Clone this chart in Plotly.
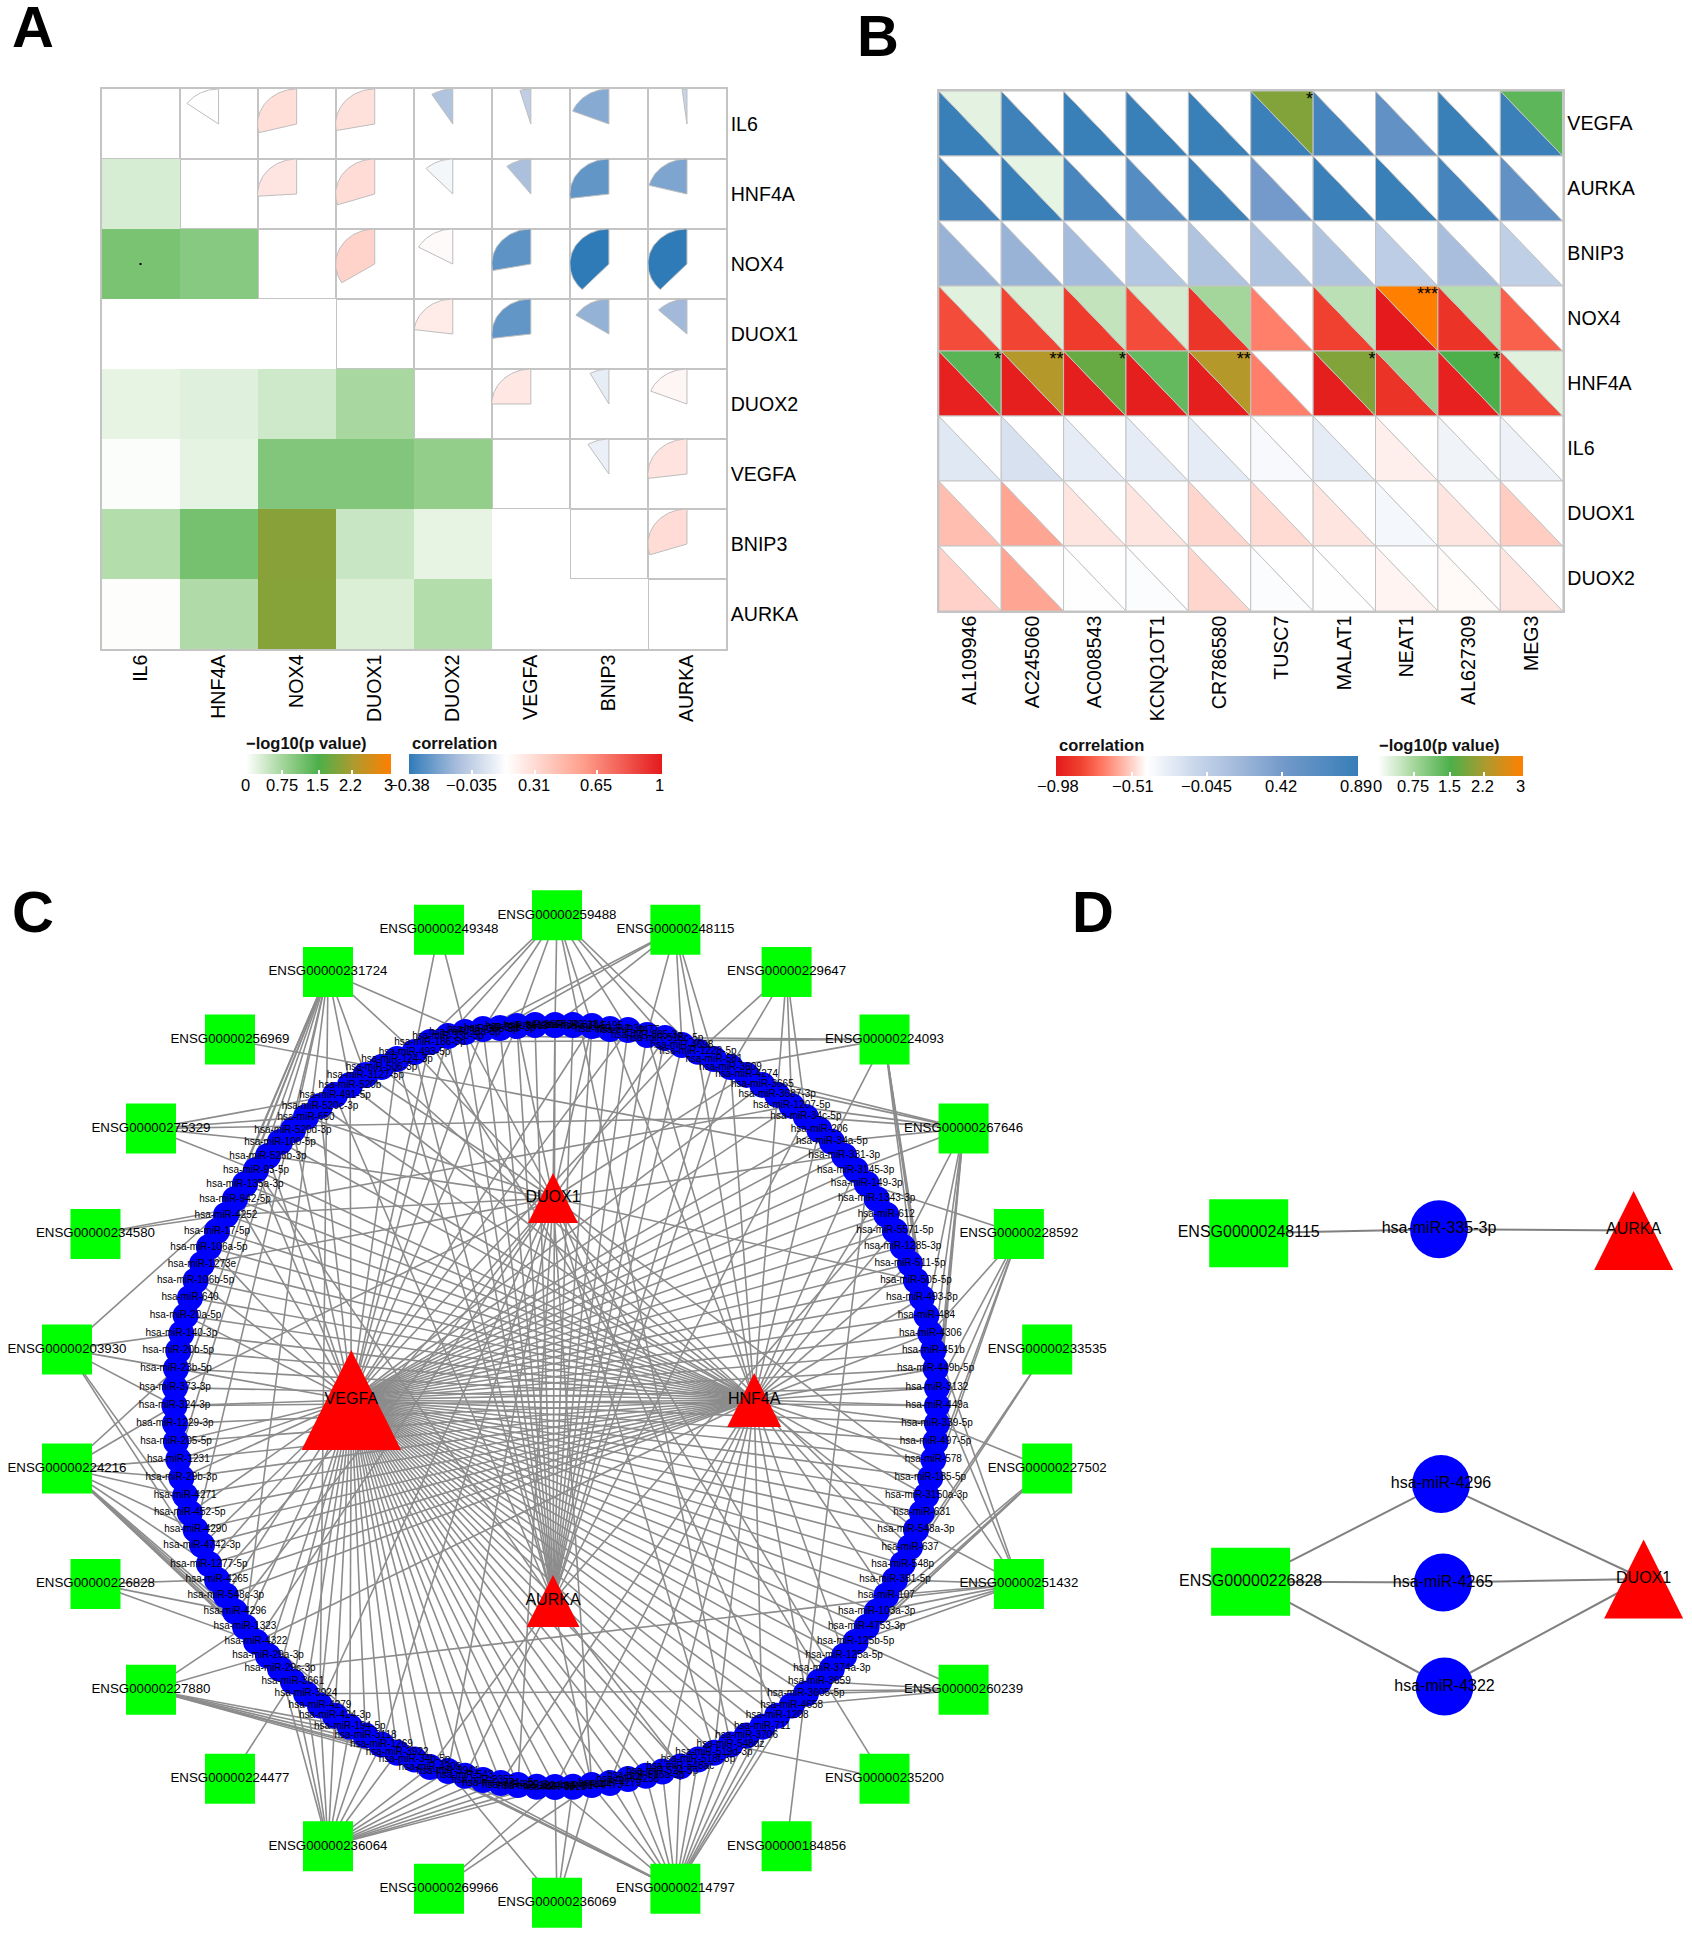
import numpy as np
import plotly.graph_objects as go

W, H = 1692, 1937
FONT = "Liberation Sans"
GRID = "#C4C4C4"
EDGE = "#8C8C8C"

# ---------- Panel A data ----------
a_genes = ["IL6", "HNF4A", "NOX4", "DUOX1", "DUOX2", "VEGFA", "BNIP3", "AURKA"]
a_logp = [
    [None, None, None, None, None, None, None, None],
    [0.33, None, None, None, None, None, None, None],
    [1.12, 1.00, None, None, None, None, None, None],
    [0.0, 0.0, 0.0, None, None, None, None, None],
    [0.20, 0.26, 0.40, 0.72, None, None, None, None],
    [0.04, 0.22, 1.05, 1.05, 0.90, None, None, None],
    [0.62, 1.15, 1.95, 0.45, 0.20, 0.0, None, None],
    [0.02, 0.65, 1.93, 0.30, 0.62, 0.0, 0.0, None],
]
a_corr = [
    [None, 0.15, 0.29, 0.28, -0.09, -0.045, -0.19, -0.02],
    [None, None, 0.26, 0.30, 0.12, -0.105, -0.27, -0.21],
    [None, None, None, 0.34, 0.17, -0.28, -0.38, -0.38],
    [None, None, None, None, 0.23, -0.27, -0.16, -0.13],
    [None, None, None, None, None, 0.25, 0.08, 0.19],
    [None, None, None, None, None, None, 0.09, 0.27],
    [None, None, None, None, None, None, None, 0.30],
    [None, None, None, None, None, None, None, None],
]
a_corr_ticks = [-0.38, -0.035, 0.31, 0.65, 1]
a_corr_labels = ["\u22120.38", "\u22120.035", "0.31", "0.65", "1"]
p_ticks = [0, 0.75, 1.5, 2.2, 3]
p_labels = ["0", "0.75", "1.5", "2.2", "3"]

# ---------- Panel B data ----------
b_rows = ["VEGFA", "AURKA", "BNIP3", "NOX4", "HNF4A", "IL6", "DUOX1", "DUOX2"]
b_cols = ["AL109946", "AC245060", "AC008543", "KCNQ1OT1", "CR786580", "TUSC7", "MALAT1", "NEAT1", "AL627309", "MEG3"]
b_corr = [
    [0.87, 0.82, 0.87, 0.87, 0.87, 0.85, 0.78, 0.55, 0.87, 0.85],
    [0.80, 0.87, 0.75, 0.65, 0.82, 0.42, 0.85, 0.87, 0.78, 0.55],
    [0.20, 0.20, 0.12, 0.02, 0.05, 0.05, 0.05, -0.03, 0.10, -0.05],
    [-0.80, -0.82, -0.85, -0.80, -0.87, -0.68, -0.83, -0.98, -0.88, -0.75],
    [-0.95, -0.96, -0.96, -0.96, -0.96, -0.68, -0.96, -0.88, -0.95, -0.80],
    [-0.25, -0.20, -0.28, -0.28, -0.28, -0.38, -0.28, -0.45, -0.34, -0.33],
    [-0.55, -0.60, -0.47, -0.47, -0.50, -0.49, -0.47, -0.36, -0.47, -0.52],
    [-0.51, -0.60, -0.42, -0.40, -0.50, -0.40, -0.42, -0.44, -0.43, -0.47],
]
b_logp = [
    [0.22, 0, 0, 0, 0, 1.90, 0, 0, 0, 1.35],
    [0, 0.20, 0, 0, 0, 0, 0, 0, 0, 0],
    [0, 0, 0, 0, 0, 0, 0, 0, 0, 0],
    [0.25, 0.33, 0.50, 0.35, 0.75, 0, 0.55, 3.0, 0.60, 0],
    [1.40, 2.30, 1.70, 1.30, 2.30, 0, 1.90, 0.85, 1.50, 0.25],
    [0, 0, 0, 0, 0, 0, 0, 0, 0, 0],
    [0, 0, 0, 0, 0, 0, 0, 0, 0, 0],
    [0, 0, 0, 0, 0, 0, 0, 0, 0, 0],
]
b_stars = [
    ["", "", "", "", "", "*", "", "", "", ""],
    ["", "", "", "", "", "", "", "", "", ""],
    ["", "", "", "", "", "", "", "", "", ""],
    ["", "", "", "", "", "", "", "***", "", ""],
    ["*", "**", "*", "", "**", "", "*", "", "*", ""],
    ["", "", "", "", "", "", "", "", "", ""],
    ["", "", "", "", "", "", "", "", "", ""],
    ["", "", "", "", "", "", "", "", "", ""],
]
b_corr_ticks = [-0.98, -0.51, -0.045, 0.42, 0.89]
b_corr_labels = ["\u22120.98", "\u22120.51", "\u22120.045", "0.42", "0.89"]

# ---------- Panel C data (node positions) ----------
lnc_names = ["ENSG00000249348", "ENSG00000259488", "ENSG00000248115", "ENSG00000229647", "ENSG00000224093",
             "ENSG00000267646", "ENSG00000228592", "ENSG00000233535", "ENSG00000227502", "ENSG00000251432",
             "ENSG00000260239", "ENSG00000235200", "ENSG00000184856", "ENSG00000214797", "ENSG00000236069",
             "ENSG00000269966", "ENSG00000236064", "ENSG00000224477", "ENSG00000227880", "ENSG00000226828",
             "ENSG00000224216", "ENSG00000203930", "ENSG00000234580", "ENSG00000275329", "ENSG00000256969",
             "ENSG00000231724"]
lnc_x = [439, 557, 675.4, 786.6, 884.5, 963.6, 1018.9, 1047.2, 1047.2, 1018.9, 963.6, 884.5, 786.6, 675.4, 557,
         439, 328, 230, 151, 95.5, 67, 67, 95.5, 151, 230, 328]
lnc_y = [929.8, 915.3, 929.8, 972.1, 1039.4, 1128.6, 1234, 1349.4, 1468.5, 1583.9, 1689.7, 1778.8, 1846.2, 1888.7,
         1902.7, 1888.7, 1846.2, 1778.8, 1689.7, 1583.9, 1468.5, 1349.4, 1234, 1128.6, 1039.4, 972.1]

mrna_names = ["VEGFA", "HNF4A", "DUOX1", "AURKA"]
mrna_x = [351.3, 754.2, 553, 553]
mrna_y = [1400, 1400, 1198, 1601]
mrna_w = [99.5, 54, 50, 53]
mrna_h = [100, 54, 50, 52]

mir_names = ["hsa-miR-340", "hsa-miR-3607", "hsa-miR-3613", "hsa-miR-338-3p", "hsa-miR-335-3p", "hsa-miR-33a-3p",
             "hsa-miR-33b-3p", "hsa-miR-186-5p", "hsa-miR-493-5p", "hsa-miR-124-3p", "hsa-miR-506-3p", "hsa-miR-3127-5p",
             "hsa-miR-520b", "hsa-miR-491-5p", "hsa-miR-520c-3p", "hsa-miR-650", "hsa-miR-520d-3p", "hsa-miR-100-5p",
             "hsa-miR-526b-3p", "hsa-miR-93-5p", "hsa-miR-135a-3p", "hsa-miR-942-5p", "hsa-miR-4252", "hsa-miR-17-5p",
             "hsa-miR-106a-5p", "hsa-miR-1273e", "hsa-miR-106b-5p", "hsa-miR-640", "hsa-miR-20a-5p", "hsa-miR-140-3p",
             "hsa-miR-20b-5p", "hsa-miR-23b-5p", "hsa-miR-373-3p", "hsa-miR-324-3p", "hsa-miR-1229-3p", "hsa-miR-205-5p",
             "hsa-miR-1231", "hsa-miR-29b-3p", "hsa-miR-4271", "hsa-miR-452-5p", "hsa-miR-4290", "hsa-miR-4742-3p",
             "hsa-miR-1277-5p", "hsa-miR-4265", "hsa-miR-548c-3p", "hsa-miR-4296", "hsa-miR-1323", "hsa-miR-4322",
             "hsa-miR-29a-3p", "hsa-miR-29c-3p", "hsa-miR-3661", "hsa-miR-3924", "hsa-miR-4279", "hsa-miR-424-3p",
             "hsa-miR-194-5p", "hsa-miR-3118", "hsa-miR-1269", "hsa-miR-3922", "hsa-miR-34b-5p", "hsa-miR-4309",
             "hsa-miR-3941", "hsa-miR-543", "hsa-miR-2355", "hsa-miR-374c-5p", "hsa-miR-329-3p", "hsa-miR-1224-3p",
             "hsa-miR-3619", "hsa-miR-3144", "hsa-miR-4473", "hsa-miR-4279", "hsa-miR-4258", "hsa-miR-516a-3p",
             "hsa-miR-524-5p", "hsa-miR-548ac", "hsa-miR-518f-3p", "hsa-miR-519d-3p", "hsa-miR-548dz", "hsa-miR-3706",
             "hsa-miR-711", "hsa-miR-1208", "hsa-miR-4658", "hsa-miR-3605-5p", "hsa-miR-3659", "hsa-miR-374a-3p",
             "hsa-miR-125a-5p", "hsa-miR-125b-5p", "hsa-miR-4753-3p", "hsa-miR-103a-3p", "hsa-miR-107", "hsa-miR-381-5p",
             "hsa-miR-548p", "hsa-miR-637", "hsa-miR-548a-3p", "hsa-miR-631", "hsa-miR-3150a-3p", "hsa-miR-185-5p",
             "hsa-miR-578", "hsa-miR-497-5p", "hsa-miR-339-5p", "hsa-miR-449a", "hsa-miR-3132", "hsa-miR-449b-5p",
             "hsa-miR-451b", "hsa-miR-4306", "hsa-miR-484", "hsa-miR-493-3p", "hsa-miR-505-5p", "hsa-miR-511-5p",
             "hsa-miR-1285-3p", "hsa-miR-5571-5p", "hsa-miR-612", "hsa-miR-1343-3p", "hsa-miR-149-3p", "hsa-miR-3145-3p",
             "hsa-miR-331-3p", "hsa-miR-34a-5p", "hsa-miR-206", "hsa-miR-34c-5p", "hsa-miR-1207-5p", "hsa-miR-3687-3p",
             "hsa-miR-3665", "hsa-miR-4274", "hsa-miR-3609", "hsa-miR-581", "hsa-miR-1228-5p", "hsa-miR-4698",
             "hsa-miR-518c-5p", "hsa-miR-885-3p", "hsa-miR-4477", "hsa-miR-7-2-3p", "hsa-miR-5195", "hsa-miR-3184"]
mir_x = [555, 535, 517, 500, 483, 465, 448, 430, 414.5, 397, 381.5, 365.5, 350, 335, 320, 306, 293, 280, 268, 256,
         245, 235, 226, 217, 209, 202, 195.6, 190, 185.6, 181.4, 178.3, 176, 175, 174.5, 175, 176, 178.3, 181.4,
         185.2, 189.8, 195.6, 202, 209, 217, 225.8, 235, 245, 256, 268, 280, 292.8, 306, 320, 334.9, 349.8, 365.5,
         381.5, 397.2, 414.5, 430, 448, 465, 483, 500.7, 518, 536.7, 555, 573, 591.7, 610, 628, 646, 662.4, 680.4,
         698, 714, 730.5, 746.6, 762.3, 777.2, 791.7, 805.9, 819.3, 831.9, 844.2, 855.6, 866.7, 876.7, 886.3, 895,
         902.7, 910, 916, 921.9, 926.4, 930.3, 933.3, 935.6, 937, 937, 937, 935.6, 933.3, 930.3, 926.4, 921.9, 916,
         910, 902.7, 895, 886.3, 876.7, 866.7, 855.6, 844.2, 831.9, 819.3, 805.9, 791.7, 777.2, 762.3, 746.6, 730.5,
         714, 698, 682, 665, 647, 628, 610, 592, 573]
mir_y = [1025, 1025, 1026, 1028, 1029, 1032, 1036, 1042, 1052, 1059, 1067, 1075, 1085, 1095, 1106, 1117, 1130, 1142,
         1156, 1170, 1184, 1199, 1215, 1231, 1247, 1264, 1280.5, 1297.7, 1315.6, 1333.5, 1350.7, 1368.6, 1387.6,
         1405.8, 1423.6, 1441.8, 1459.6, 1477.7, 1495.5, 1512.7, 1529.8, 1545, 1564, 1579.8, 1595.5, 1611.6, 1626.7,
         1641.8, 1655.8, 1668.8, 1681.5, 1693.8, 1705.5, 1715.8, 1726.7, 1735.6, 1744.5, 1752.7, 1759.6, 1767, 1771,
         1775.7, 1780, 1783, 1785, 1786.7, 1787, 1786.7, 1785, 1783, 1779, 1775.7, 1771.6, 1766.4, 1759.6, 1752.7,
         1744.5, 1735.6, 1726.7, 1715.8, 1705.5, 1693.8, 1681.5, 1668.8, 1655.8, 1641.8, 1626.7, 1611.6, 1595.5,
         1579.8, 1564, 1547, 1529.8, 1512.7, 1495.5, 1477.7, 1459.6, 1441.8, 1423.6, 1405.8, 1387.6, 1368.6, 1350.7,
         1333.5, 1315.6, 1297.7, 1280.5, 1263.6, 1246.7, 1230.9, 1214.7, 1198.9, 1183.7, 1170, 1155.8, 1141.7, 1129.7,
         1116.9, 1105.9, 1094.9, 1084.9, 1074.9, 1067, 1059, 1051.8, 1045, 1038, 1035, 1030, 1029, 1026, 1025]

# miRNA indices linked to each lncRNA (same order as lnc_names)
lnc_links = [
    [8, 5],
    [6, 4, 2, 0, 130, 128, 126, 124, 8, 76],
    [4, 3, 0, 127, 125, 124, 123],
    [124, 122, 119, 118, 117],
    [7, 6, 122, 115, 105, 103, 100, 97],
    [121, 120, 118, 117, 115, 113, 108, 104, 102, 100, 99, 98],
    [112, 103, 100, 98, 95, 93],
    [90, 88],
    [98, 87, 85, 83, 80],
    [104, 100, 96, 92, 89, 88, 87, 86, 85, 49],
    [85, 82, 81, 80, 51],
    [76, 7],
    [112],
    [57, 58, 59, 60, 66, 68, 69, 70, 71, 72, 73, 74, 75, 76, 77, 78, 79, 80],
    [60, 66, 67, 68],
    [68, 66],
    [49, 50, 51, 52, 53, 54, 55, 56, 57, 59, 60, 61, 62, 63, 64, 65, 66],
    [50],
    [46, 48, 54, 55, 56, 57, 58, 59],
    [43, 45, 47],
    [31, 33, 36, 37, 38, 40, 42, 46, 48, 51, 54, 57],
    [21, 29, 31, 33, 40, 44],
    [22, 118],
    [13, 15, 17, 19, 117],
    [114],
    [12, 16, 20, 23, 27, 30, 33, 36, 40, 46, 52, 5, 8, 11],
]
# miRNA indices linked to each mRNA (same order as mrna_names)
mrna_links = [
    [2, 4, 6, 7, 9, 12, 14, 16, 18, 19, 21, 24, 26, 28, 31, 33, 35, 36, 37, 39, 41, 42, 44, 46, 48, 49, 50, 51, 52,
     53, 54, 55, 56, 57, 58, 59, 60, 61, 62, 63, 64, 65, 66, 67, 68, 69, 70, 71, 72, 73, 74, 75, 76, 77, 78, 79, 80,
     81, 82, 83, 84, 85, 86, 87, 88, 89, 90, 91, 92, 93, 94, 95, 96, 97, 98, 99, 100, 101, 102, 103, 104, 105, 106,
     107, 108, 109, 110, 111, 112, 113, 114, 115, 116, 118, 120, 125, 128, 130],
    [10, 12, 14, 16, 17, 19, 20, 21, 22, 23, 24, 25, 26, 27, 28, 29, 30, 31, 32, 33, 34, 35, 36, 37, 38, 39, 40, 41,
     42, 43, 44, 47, 63, 66, 69, 72, 75, 78, 81, 84, 88, 90, 92, 94, 96, 98, 99, 100, 101, 103, 105, 107, 109, 111,
     113, 116, 119, 122, 124, 127, 129],
    [0, 2, 5, 8, 11, 15, 18, 22, 25, 32, 43, 45, 47, 52, 56, 60, 64, 68, 75, 79, 83, 91, 95, 106, 114, 121, 126, 130],
    [0, 1, 2, 3, 4, 5, 6, 8, 9, 13, 19, 59, 61, 68, 73, 110, 117, 122, 123, 125, 126, 127, 128, 129, 130, 131],
]

# ---------- Panel D data ----------
d_lnc_names = ["ENSG00000248115", "ENSG00000226828"]
d_lnc_x = [1248.7, 1250.6]
d_lnc_y = [1233.2, 1581.7]
d_mir_names = ["hsa-miR-335-3p", "hsa-miR-4296", "hsa-miR-4265", "hsa-miR-4322"]
d_mir_x = [1439, 1441, 1443, 1444.5]
d_mir_y = [1229.2, 1484, 1582.5, 1686.5]
d_mrna_names = ["AURKA", "DUOX1"]
d_mrna_x = [1633.6, 1643.6]
d_mrna_y = [1230.4, 1579]
d_links = [(0, 0, 0), (1, 1, 1), (1, 2, 1), (1, 3, 1)]  # lnc, mir, mrna


# ---------- helpers ----------
def hex2rgb(c):
    return np.array([int(c[i:i + 2], 16) for i in (1, 3, 5)], float)


def pick(scale, t):
    t = min(max(t, 0), 1)
    for (a, ca), (b, cb) in zip(scale[:-1], scale[1:]):
        if t <= b:
            f = (t - a) / (b - a)
            v = hex2rgb(ca) * (1 - f) + hex2rgb(cb) * f
            return "rgb(%d,%d,%d)" % tuple(v)
    return scale[-1][1]


P_SCALE = [[0, "#FFFFFF"], [0.25, "#A4D69B"], [0.5, "#4DAF4A"], [0.75, "#B09A2D"], [1, "#FF7F00"]]
A_SCALE = [[0, "#2F7BB8"], [0.19, "#A8BDDC"], [0.385, "#FFFFFF"], [0.69, "#FF9E8B"], [1, "#E41A1C"]]
B_SCALE = [[0, "#E41A1C"], [0.08, "#F0402F"], [0.15, "#FF7660"], [0.22, "#FFB5A5"], [0.30, "#FFFFFF"],
           [0.45, "#CCD9EC"], [0.60, "#A3BADB"], [0.75, "#739ACA"], [1, "#377EB8"]]
A_MIN, A_MAX = -0.38, 1.0
B_MIN, B_MAX = -0.98, 0.89


def dom_x(a, b):
    return [a / W, b / W]


def dom_y(top, bottom):
    return [1 - bottom / H, 1 - top / H]


def cbar(left, top, length, ticks):
    return dict(orientation="h", x=left / W, xanchor="left", xref="paper", y=1 - top / H, yanchor="top", yref="paper",
                len=length, lenmode="pixels", thickness=20, thicknessmode="pixels", xpad=0, ypad=0, outlinewidth=0,
                tickmode="array", tickvals=ticks, showticklabels=False, ticks="inside", ticklen=4,
                tickcolor="white", tickwidth=1.5)


fig = go.Figure()

# ---------- Panel A ----------
n = len(a_genes)
fig.add_trace(go.Heatmap(z=a_logp, x=list(range(n)), y=list(range(n)), colorscale=P_SCALE, zmin=0, zmax=3,
                         xaxis="x", yaxis="y", hoverinfo="skip", colorbar=cbar(246, 754, 145, p_ticks)))
for r in range(n):
    for c in range(n):
        v = a_corr[r][c]
        if v is None:
            continue
        th = np.radians(np.linspace(0, abs(v) * 360, 40))
        xs = [c] + list(c - 0.5 * np.sin(th)) + [c]
        ys = [r] + list(r - 0.5 * np.cos(th)) + [r]
        fig.add_trace(go.Scatter(x=xs, y=ys, mode="lines", fill="toself", xaxis="x", yaxis="y",
                                 fillcolor=pick(A_SCALE, (v - A_MIN) / (A_MAX - A_MIN)),
                                 line=dict(color="#BDBDBD", width=1), hoverinfo="skip", showlegend=False))
fig.add_trace(go.Scatter(x=[0], y=[2], mode="markers", marker=dict(color="black", size=2, symbol="square", opacity=1),
                         xaxis="x", yaxis="y", hoverinfo="skip", showlegend=False))
fig.add_trace(go.Scatter(x=[None], y=[None], mode="markers", xaxis="x", yaxis="y", hoverinfo="skip", showlegend=False,
                         marker=dict(color=[0], colorscale=A_SCALE, cmin=A_MIN, cmax=A_MAX, showscale=True,
                                     colorbar=cbar(408.5, 754, 252.5, a_corr_ticks))))

# ---------- Panel B ----------
nr, nc = len(b_rows), len(b_cols)
for r in range(nr):
    for c in range(nc):
        xl, xr, yt, yb = c - 0.5, c + 0.5, r - 0.5, r + 0.5
        fig.add_trace(go.Scatter(x=[xl, xr, xl, xl], y=[yt, yb, yb, yt], mode="lines", fill="toself",
                                 xaxis="x2", yaxis="y2", hoverinfo="skip", showlegend=False,
                                 fillcolor=pick(B_SCALE, (b_corr[r][c] - B_MIN) / (B_MAX - B_MIN)),
                                 line=dict(color="#C4C4C4", width=1)))
        fig.add_trace(go.Scatter(x=[xl, xr, xr, xl], y=[yt, yt, yb, yt], mode="lines", fill="toself",
                                 xaxis="x2", yaxis="y2", hoverinfo="skip", showlegend=False,
                                 fillcolor=pick(P_SCALE, b_logp[r][c] / 3),
                                 line=dict(color="#C4C4C4", width=1)))
star_x, star_y, star_t = [], [], []
for r in range(nr):
    for c in range(nc):
        if b_stars[r][c]:
            star_x.append(c + 0.5)
            star_y.append(r - 0.5)
            star_t.append(b_stars[r][c])
fig.add_trace(go.Scatter(x=star_x, y=star_y, text=star_t, mode="text", textposition="bottom left",
                         textfont=dict(family=FONT, size=18, color="black"), xaxis="x2", yaxis="y2",
                         hoverinfo="skip", showlegend=False, cliponaxis=False))
fig.add_trace(go.Scatter(x=[None], y=[None], mode="markers", xaxis="x2", yaxis="y2", hoverinfo="skip", showlegend=False,
                         marker=dict(color=[0], colorscale=B_SCALE, cmin=B_MIN, cmax=B_MAX, showscale=True,
                                     colorbar=cbar(1056, 756, 301.6, b_corr_ticks))))
fig.add_trace(go.Scatter(x=[None], y=[None], mode="markers", xaxis="x2", yaxis="y2", hoverinfo="skip", showlegend=False,
                         marker=dict(color=[0], colorscale=P_SCALE, cmin=0, cmax=3, showscale=True,
                                     colorbar=cbar(1377.6, 756, 145.4, p_ticks))))

# ---------- Panels C and D : networks ----------
ex, ey = [], []
for i, targets in enumerate(lnc_links):
    for t in targets:
        ex += [lnc_x[i], mir_x[t], None]
        ey += [lnc_y[i], mir_y[t], None]
for i, targets in enumerate(mrna_links):
    for t in targets:
        ex += [mrna_x[i], mir_x[t], None]
        ey += [mrna_y[i], mir_y[t], None]
fig.add_trace(go.Scatter(x=ex, y=ey, mode="lines", line=dict(color=EDGE, width=1.6), xaxis="x3", yaxis="y3",
                         hoverinfo="skip", showlegend=False))
dx, dy = [], []
for a, b, c in d_links:
    dx += [d_lnc_x[a], d_mir_x[b], d_mrna_x[c], None]
    dy += [d_lnc_y[a], d_mir_y[b], d_mrna_y[c], None]
fig.add_trace(go.Scatter(x=dx, y=dy, mode="lines", line=dict(color="#808080", width=2), xaxis="x3", yaxis="y3",
                         hoverinfo="skip", showlegend=False))
fig.add_trace(go.Scatter(x=lnc_x, y=lnc_y, mode="markers", xaxis="x3", yaxis="y3", hoverinfo="skip", showlegend=False,
                         marker=dict(symbol="square", size=50, color="#00FF00", opacity=1, line=dict(width=0))))
fig.add_trace(go.Scatter(x=mir_x + d_mir_x, y=mir_y + d_mir_y, mode="markers", xaxis="x3", yaxis="y3",
                         hoverinfo="skip", showlegend=False,
                         marker=dict(symbol="circle", size=[26] * len(mir_x) + [58] * len(d_mir_x),
                                     color="#0000FF", opacity=1, line=dict(width=0))))


def polygon(xs, ys, color):
    fig.add_trace(go.Scatter(x=xs, y=ys, mode="lines", fill="toself", fillcolor=color, line=dict(width=0),
                             xaxis="x3", yaxis="y3", hoverinfo="skip", showlegend=False))


for x, y, w, h in zip(mrna_x, mrna_y, mrna_w, mrna_h):
    polygon([x - w / 2, x, x + w / 2, x - w / 2], [y + h / 2, y - h / 2, y + h / 2, y + h / 2], "#FF0000")
for x, y in zip(d_mrna_x, d_mrna_y):
    polygon([x - 39.5, x, x + 39.5, x - 39.5], [y + 39.5, y - 39.5, y + 39.5, y + 39.5], "#FF0000")
for x, y in zip(d_lnc_x, d_lnc_y):
    polygon([x - 39.5, x + 39.5, x + 39.5, x - 39.5, x - 39.5], [y - 34, y - 34, y + 34, y + 34, y - 34], "#00FF00")


def labels(xs, ys, names, size):
    fig.add_trace(go.Scatter(x=xs, y=ys, text=names, mode="text", textposition="middle center",
                             textfont=dict(family=FONT, size=size, color="black"), xaxis="x3", yaxis="y3",
                             hoverinfo="skip", showlegend=False))


labels(mir_x, mir_y, mir_names, 10)
labels(lnc_x, lnc_y, lnc_names, 13.3)
labels(mrna_x, mrna_y, mrna_names, 16)
labels(d_lnc_x, d_lnc_y, d_lnc_names, 16)
labels(d_mir_x, d_mir_y, d_mir_names, 16)
labels(d_mrna_x, d_mrna_y, d_mrna_names, 16)

# ---------- annotations ----------
ann = []
for t, x, y in [("A", 9.5, 27), ("B", 855, 35), ("C", 10, 912), ("D", 1070, 911)]:
    ann.append(dict(text="<b>%s</b>" % t, x=x / W, y=1 - y / H, xref="paper", yref="paper", xanchor="left",
                    yanchor="middle", showarrow=False, font=dict(family=FONT, size=58, color="black")))
for t, x, y in [("\u2212log10(p value)", 244, 743), ("correlation", 409.5, 743),
                ("correlation", 1057, 745), ("\u2212log10(p value)", 1376.5, 745)]:
    ann.append(dict(text="<b>%s</b>" % t, x=x / W, y=1 - y / H, xref="paper", yref="paper", xanchor="left",
                    yanchor="middle", showarrow=False, font=dict(family=FONT, size=16.5, color="#111111")))


def tick_notes(left, length, vmin, vmax, ticks, texts, y):
    for v, t in zip(ticks, texts):
        px = left + (v - vmin) / (vmax - vmin) * length
        ann.append(dict(text=t, x=px / W, y=1 - y / H, xref="paper", yref="paper", xanchor="center", yanchor="middle",
                        showarrow=False, font=dict(family=FONT, size=16.5, color="black")))


tick_notes(246, 145, 0, 3.05, p_ticks, p_labels, 785)
tick_notes(408.5, 252.5, A_MIN, A_MAX + 0.01, a_corr_ticks, a_corr_labels, 785)
tick_notes(1056, 301.6, B_MIN - 0.01, B_MAX + 0.01, b_corr_ticks, b_corr_labels, 786)
tick_notes(1377.6, 145.4, 0, 3.05, p_ticks, p_labels, 786)

edges_a = [i - 0.5 for i in range(n + 1)]
edges_bx = [i - 0.5 for i in range(nc + 1)]
edges_by = [i - 0.5 for i in range(nr + 1)]


def cat_x(dom, ticks, labs, rng, edges, standoff):
    return dict(domain=dom, range=rng, tickmode="array", tickvals=ticks, ticktext=labs, tickangle=-90, ticks="",
                showgrid=False, zeroline=False, showline=True, mirror=True, linecolor=GRID, linewidth=1.5,
                ticklabelstandoff=standoff, tickfont=dict(family=FONT, size=19.6, color="black"), fixedrange=True,
                minor=dict(tickvals=edges, showgrid=True, gridcolor=GRID, gridwidth=1.5, ticks=""))


def cat_y(dom, ticks, labs, rng, edges, anchor):
    return dict(domain=dom, range=rng, tickmode="array", tickvals=ticks, ticktext=labs, side="right", ticks="",
                showgrid=False, zeroline=False, showline=True, mirror=True, linecolor=GRID, linewidth=1.5,
                anchor=anchor, ticklabelstandoff=-1, tickfont=dict(family=FONT, size=19.6, color="black"), fixedrange=True,
                minor=dict(tickvals=edges, showgrid=True, gridcolor=GRID, gridwidth=1.5, ticks=""))


hidden = dict(visible=False, fixedrange=True, showgrid=False, zeroline=False)
fig.update_layout(
    width=W, height=H, margin=dict(l=0, r=0, t=0, b=0, autoexpand=False),
    paper_bgcolor="white", plot_bgcolor="rgba(0,0,0,0)", showlegend=False, font=dict(family=FONT),
    annotations=ann,
    xaxis=cat_x(dom_x(101.5, 726), list(range(n)), a_genes, [-0.5, n - 0.5], edges_a, -4),
    yaxis=cat_y(dom_y(89, 649), list(range(n)), a_genes, [n - 0.5, -0.5], edges_a, "x"),
    xaxis2=dict(cat_x(dom_x(938.8, 1562.7), list(range(nc)), b_cols, [-0.5, nc - 0.5], edges_bx, -5), anchor="y2"),
    yaxis2=cat_y(dom_y(91, 611), list(range(nr)), b_rows, [nr - 0.5, -0.5], edges_by, "x2"),
    xaxis3=dict(hidden, domain=[0, 1], range=[0, W], anchor="y3"),
    yaxis3=dict(hidden, domain=[0, 1], range=[H, 0], anchor="x3"),
)

fig.write_html("out.html", post_script="document.body.style.margin='0';", config={"displayModeBar": False})
